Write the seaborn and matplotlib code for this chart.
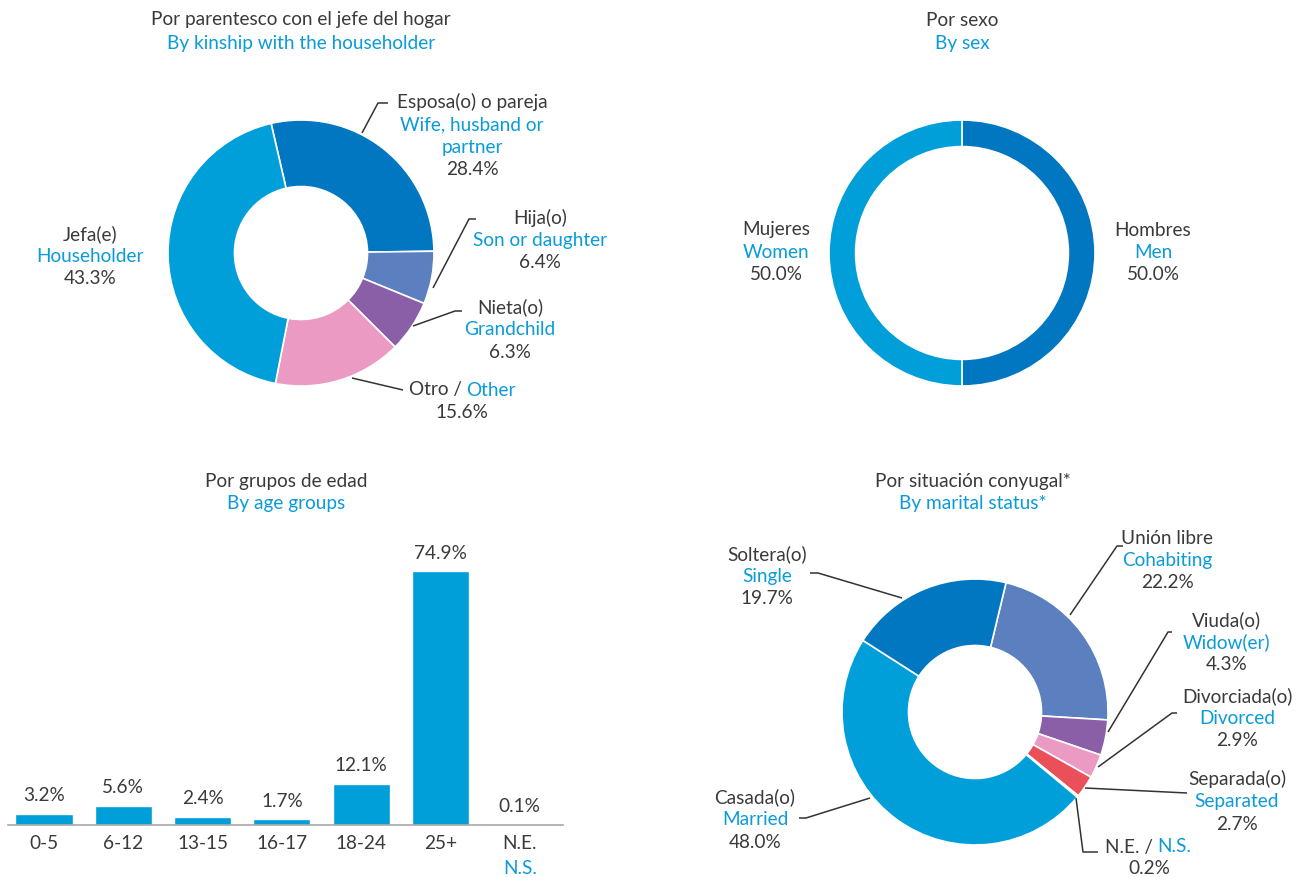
import matplotlib
matplotlib.use("Agg")
import matplotlib.pyplot as plt
import seaborn as sns
import numpy as np

sns.set_theme(style="white")
plt.rcParams['font.family'] = ['Lato', 'DejaVu Sans']

# ---------------- data ----------------
kin_labels_es = ["Esposa(o) o pareja", "Hija(o)", "Nieta(o)", "Otro", "Jefa(e)"]
kin_labels_en = ["Wife, husband or\npartner", "Son or daughter", "Grandchild", "Other", "Householder"]
kin_values = [28.4, 6.4, 6.3, 15.6, 43.3]

sex_labels_es = ["Hombres", "Mujeres"]
sex_labels_en = ["Men", "Women"]
sex_values = [50.0, 50.0]

age_groups = ["0-5", "6-12", "13-15", "16-17", "18-24", "25+", "N.E."]
age_values = [3.2, 5.6, 2.4, 1.7, 12.1, 74.9, 0.1]

mar_labels_es = ["Unión libre", "Viuda(o)", "Divorciada(o)", "Separada(o)", "N.E.", "Casada(o)", "Soltera(o)"]
mar_labels_en = ["Cohabiting", "Widow(er)", "Divorced", "Separated", "N.S.", "Married", "Single"]
mar_values = [22.2, 4.3, 2.9, 2.7, 0.2, 48.0, 19.7]

# ---------------- style ----------------
DARK = "#3a3a3a"
BLUE = "#0A9BD8"
BAR = "#009FDA"
kin_colors = ["#0077C0", "#5B7FBF", "#8B5FA8", "#EA9AC3", "#009FDA"]
sex_colors = ["#0077C0", "#009FDA"]
mar_colors = ["#5B7FBF", "#8B5FA8", "#EA9AC3", "#E9505A", "#5B7FBF", "#009FDA", "#0077C0"]
FS = 13.7

W, H = 1297, 877
fig = plt.figure(figsize=(W / 100, H / 100), dpi=100)

# overlay axes in pixel coordinates for text/leader lines
ov = fig.add_axes([0, 0, 1, 1], zorder=10)
ov.set_xlim(0, W)
ov.set_ylim(H, 0)
ov.axis("off")
ov.patch.set_visible(False)


def txt(x, y, s, color=DARK, ha="center"):
    return ov.text(x, y, s, color=color, fontsize=FS, ha=ha, va="center")


def pair(x, y, es, en):
    """'es / en' centred at x, Spanish part dark, English part blue."""
    t1 = ov.text(x, y, es + " /", color=DARK, fontsize=FS, ha="left", va="center")
    t2 = ov.annotate(en, xy=(1, 0), xycoords=t1, xytext=(3, 0),
                     textcoords="offset points", ha="left", va="bottom",
                     color=BLUE, fontsize=FS)
    fig.canvas.draw()
    r = fig.canvas.get_renderer()
    w = t1.get_window_extent(r).width + 4 + t2.get_window_extent(r).width
    t1.set_x(x - w / 2)


def block(x, y, es, en, pct, step=22.5):
    lines_en = en.split("\n")
    txt(x, y, es)
    for i, l in enumerate(lines_en):
        txt(x, y + step * (i + 1), l, color=BLUE)
    txt(x, y + step * (len(lines_en) + 1), pct)


def leader(pts):
    xs, ys = zip(*pts)
    ov.plot(xs, ys, color="#333333", lw=1.1, solid_capstyle="butt")


def donut(cx, cy, R, vals, colors, start, width):
    pad = 4
    ax = fig.add_axes([(cx - R - pad) / W, 1 - (cy + R + pad) / H,
                       2 * (R + pad) / W, 2 * (R + pad) / H])
    ax.pie(vals, colors=colors, startangle=start, counterclock=False, radius=1,
           wedgeprops=dict(width=width, edgecolor="white", linewidth=1.2))
    lim = (R + pad) / R
    ax.set_xlim(-lim, lim)
    ax.set_ylim(-lim, lim)
    ax.set_aspect("equal")
    ax.axis("off")
    return ax


# ---------------- titles ----------------
txt(301, 20, "Por parentesco con el jefe del hogar")
txt(301, 44, "By kinship with the householder", color=BLUE)
txt(962, 20, "Por sexo")
txt(962, 44, "By sex", color=BLUE)
txt(286, 481, "Por grupos de edad")
txt(286, 503, "By age groups", color=BLUE)
txt(973, 481, "Por situación conyugal*")
txt(973, 503, "By marital status*", color=BLUE)

# ---------------- kinship donut ----------------
donut(301, 253, 133, kin_values, kin_colors, 103, 0.5)
block(472, 102, kin_labels_es[0], kin_labels_en[0], f"{kin_values[0]}%")
leader([(362, 133), (378, 103), (388, 103)])
block(540, 218, kin_labels_es[1], kin_labels_en[1], f"{kin_values[1]}%")
leader([(433, 288), (469, 219), (476, 219)])
block(510, 307, kin_labels_es[2], kin_labels_en[2], f"{kin_values[2]}%")
leader([(413, 326), (455, 311), (462, 311)])
pair(462, 390, kin_labels_es[3], kin_labels_en[3])
txt(462, 412, f"{kin_values[3]}%")
leader([(352, 378), (403, 390)])
block(90, 234, kin_labels_es[4], kin_labels_en[4], f"{kin_values[4]}%")

# ---------------- sex donut ----------------
donut(962, 253, 133, sex_values, sex_colors, 90, 0.2)
block(1153, 230, sex_labels_es[0], sex_labels_en[0], f"{sex_values[0]:.1f}%")
block(776, 230, sex_labels_es[1], sex_labels_en[1], f"{sex_values[1]:.1f}%")

# ---------------- age bars ----------------
axb = fig.add_axes([8 / W, 1 - 825 / H, (563 - 8) / W, 271 / H])
sns.barplot(x=age_groups, y=age_values, color=BAR, saturation=1, width=0.72, ax=axb)
x0 = (8 - 44) / 79.3
axb.set_xlim(x0, x0 + (563 - 8) / 79.3)
axb.set_ylim(0, 80)
axb.bar_label(axb.containers[0], labels=[f"{v}%" for v in age_values],
              padding=7, fontsize=FS, color=DARK)
for s in ["top", "left", "right"]:
    axb.spines[s].set_visible(False)
axb.spines["bottom"].set_color("#a8a8a8")
axb.spines["bottom"].set_linewidth(1.2)
axb.set_yticks([])
axb.set_xlabel("")
axb.set_ylabel("")
axb.tick_params(axis="x", length=0, pad=7, labelsize=FS, labelcolor=DARK)
axb.patch.set_visible(False)
txt(520, 868, "N.S.", color=BLUE)

# ---------------- marital donut ----------------
donut(975, 712, 133, mar_values, mar_colors, 76.5, 0.5)
block(1167, 538, mar_labels_es[0], mar_labels_en[0], f"{mar_values[0]}%")
leader([(1070, 615), (1117, 546), (1123, 546)])
block(1227, 620, mar_labels_es[1], mar_labels_en[1], f"{mar_values[1]}%")
leader([(1108, 732), (1168, 632), (1172, 632)])
block(1237, 696, mar_labels_es[2], mar_labels_en[2], f"{mar_values[2]}%")
leader([(1098, 767), (1172, 713), (1177, 713)])
block(1237, 779, mar_labels_es[3], mar_labels_en[3], f"{mar_values[3]}%")
leader([(1085, 788), (1187, 793)])
pair(1148, 847, mar_labels_es[4], mar_labels_en[4])
txt(1149, 869, f"{mar_values[4]}%")
leader([(1076, 798), (1083, 852), (1098, 852)])
block(755, 797, mar_labels_es[5], mar_labels_en[5], f"{mar_values[5]}%")
leader([(870, 798), (806, 818), (799, 818)])
block(767, 554, mar_labels_es[6], mar_labels_en[6], f"{mar_values[6]}%")
leader([(902, 598), (818, 573), (810, 573)])

fig.savefig("out.png", dpi=100, facecolor="white")
